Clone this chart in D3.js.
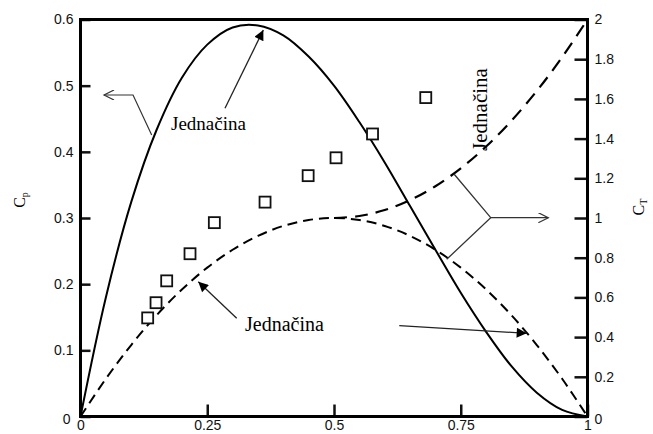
<!DOCTYPE html>
<html>
<head>
<meta charset="utf-8">
<script src="https://cdn.jsdelivr.net/npm/d3@7"></script>
<style>
    body { margin: 0; background: #fff; }
    svg { display: block; }
    .serif { font-family: "Liberation Serif", "DejaVu Serif", "Times New Roman", serif; }
    .sans { font-family: "Liberation Sans", Arial, sans-serif; }
</style>
</head>
<body>
<div id="chart"></div>
<script>
// axial induction factor a
var aGrid = [0, 0.05, 0.1, 0.15, 0.2, 0.25, 0.3, 0.35, 0.4, 0.45, 0.5,
             0.55, 0.6, 0.65, 0.7, 0.75, 0.8, 0.85, 0.9, 0.95, 1];
// solid curve, power coefficient (left axis)
var cpValues = [0, 0.18, 0.324, 0.433, 0.512, 0.562, 0.588, 0.591, 0.576, 0.544, 0.5,
                0.445, 0.384, 0.318, 0.252, 0.187, 0.128, 0.076, 0.036, 0.01, 0];
// dashed curve, thrust coefficient (right axis)
var ctValues = [0, 0.19, 0.36, 0.51, 0.64, 0.75, 0.84, 0.91, 0.96, 0.99, 1,
                0.99, 0.96, 0.91, 0.84, 0.75, 0.64, 0.51, 0.36, 0.19, 0];
// upper dashed branch (right axis)
var aUpper = [0.5, 0.55, 0.6, 0.65, 0.7, 0.75, 0.8, 0.85, 0.9, 0.95, 1];
var ctUpper = [1, 1.01, 1.04, 1.09, 1.16, 1.25, 1.36, 1.49, 1.64, 1.81, 2];
// measured points (squares)
var squareA = [0.1325, 0.149, 0.170, 0.216, 0.264, 0.364, 0.449, 0.504, 0.576, 0.681];
var squareCp = [0.149, 0.172, 0.205, 0.246, 0.293, 0.324, 0.364, 0.391, 0.427, 0.482];

var xTicks = [0, 0.25, 0.5, 0.75, 1];
var xTickLabels = ["0", "0.25", "0.5", "0.75", "1"];
var cpTicks = [0, 0.1, 0.2, 0.3, 0.4, 0.5, 0.6];
var cpTickLabels = ["0", "0.1", "0.2", "0.3", "0.4", "0.5", "0.6"];
var ctTicks = [0, 0.2, 0.4, 0.6, 0.8, 1, 1.2, 1.4, 1.6, 1.8, 2];
var ctTickLabels = ["0", "0.2", "0.4", "0.6", "0.8", "1", "1.2", "1.4", "1.6", "1.8", "2"];

var labelText = "Jednačina";

(function() {
    var width = 653,
        height = 434;
    var left = 80.5, right = 587.5, top = 19.5, bottom = 416.5;

    var svg = d3.select("#chart")
        .append("svg")
        .attr("width", width)
        .attr("height", height)

    var x = d3.scaleLinear().domain([0, 1]).range([left, right])
    var yCp = d3.scaleLinear().domain([0, 0.6]).range([bottom, top])
    var yCt = d3.scaleLinear().domain([0, 2]).range([bottom, top])

    var defs = svg.append("defs")
    defs.append("marker")
        .attr("id", "head")
        .attr("viewBox", "0 0 10 10")
        .attr("refX", 10).attr("refY", 5)
        .attr("markerWidth", 16).attr("markerHeight", 10)
        .attr("markerUnits", "userSpaceOnUse")
        .attr("orient", "auto")
        .append("path")
        .attr("d", "M0,0 L10,5 L0,10 Z")
        .attr("fill", "#000")
    defs.append("marker")
        .attr("id", "open")
        .attr("viewBox", "0 0 10 10")
        .attr("refX", 10).attr("refY", 5)
        .attr("markerWidth", 22).attr("markerHeight", 10)
        .attr("markerUnits", "userSpaceOnUse")
        .attr("orient", "auto")
        .append("path")
        .attr("d", "M0,0 L10,5 L0,10")
        .attr("fill", "none")
        .attr("stroke", "#333")
        .attr("stroke-width", 1.2)

    // curves
    var lineCp = d3.line()
        .x(function(d, i) { return x(aGrid[i]) })
        .y(function(d) { return yCp(d) })
        .curve(d3.curveCatmullRom)
    var lineCt = d3.line()
        .x(function(d, i) { return x(aGrid[i]) })
        .y(function(d) { return yCt(d) })
        .curve(d3.curveCatmullRom)
    var lineUp = d3.line()
        .x(function(d, i) { return x(aUpper[i]) })
        .y(function(d) { return yCt(d) })
        .curve(d3.curveCatmullRom)

    svg.append("path")
        .attr("d", lineCp(cpValues))
        .attr("fill", "none")
        .attr("stroke", "#000")
        .attr("stroke-width", 2)

    svg.append("path")
        .attr("d", lineCt(ctValues))
        .attr("fill", "none")
        .attr("stroke", "#000")
        .attr("stroke-width", 2)
        .attr("stroke-dasharray", "10,6")

    svg.append("path")
        .attr("d", lineUp(ctUpper))
        .attr("fill", "none")
        .attr("stroke", "#000")
        .attr("stroke-width", 2.2)
        .attr("stroke-dasharray", "13,8")

    // squares
    svg.selectAll(".sq")
        .data(squareCp)
        .enter().append("rect")
        .attr("class", "sq")
        .attr("x", function(d, i) { return x(squareA[i]) - 5.5 })
        .attr("y", function(d) { return yCp(d) - 5.5 })
        .attr("width", 11)
        .attr("height", 11)
        .attr("fill", "#fff")
        .attr("stroke", "#111")
        .attr("stroke-width", 1.8)

    // annotations (positions in data units)
    var ptCp = function(p) { return [x(p[0]), yCp(p[1])] }
    var ptCt = function(p) { return [x(p[0]), yCt(p[1])] }
    var plain = d3.line()

    svg.append("path")
        .attr("d", plain([[0.1404, 0.4254], [0.1036, 0.4859], [0.0464, 0.4859]].map(ptCp)))
        .attr("fill", "none")
        .attr("stroke", "#333")
        .attr("stroke-width", 1.2)
        .attr("marker-end", "url(#open)")

    var filledArrows = [
        [[0.285, 0.4658], [0.3606, 0.5841]],
        [[0.3081, 0.1484], [0.2323, 0.2037]],
        [[0.6288, 0.1372], [0.8801, 0.1257]]
    ]
    filledArrows.forEach(function(p) {
        svg.append("path")
            .attr("d", plain(p.map(ptCp)))
            .attr("fill", "none")
            .attr("stroke", "#222")
            .attr("stroke-width", 1.3)
            .attr("marker-end", "url(#head)")
    })

    svg.append("path")
        .attr("d", plain([[0.7367, 1.2217], [0.8091, 1.0015], [0.7223, 0.7919]].map(ptCt)))
        .attr("fill", "none")
        .attr("stroke", "#333")
        .attr("stroke-width", 1.3)
    svg.append("path")
        .attr("d", plain([[0.8091, 1.0015], [0.9227, 1.0015]].map(ptCt)))
        .attr("fill", "none")
        .attr("stroke", "#333")
        .attr("stroke-width", 1.2)
        .attr("marker-end", "url(#open)")

    svg.append("text")
        .attr("class", "serif")
        .attr("x", x(0.1785)).attr("y", yCp(0.433))
        .attr("font-size", 19)
        .text(labelText)
    svg.append("text")
        .attr("class", "serif")
        .attr("x", x(0.3245)).attr("y", yCp(0.1292))
        .attr("font-size", 20)
        .text(labelText)
    svg.append("text")
        .attr("class", "serif")
        .attr("transform", "translate(" + x(0.8018) + "," + yCt(1.5466) + ") rotate(-90)")
        .attr("text-anchor", "middle")
        .attr("font-size", 21)
        .text(labelText)

    // axes
    var axisLeft = d3.axisLeft(yCp)
        .tickValues(cpTicks)
        .tickFormat(function(d, i) { return cpTickLabels[i] })
        .tickSizeInner(-10).tickSizeOuter(0).tickPadding(7)
    var axisRight = d3.axisRight(yCt)
        .tickValues(ctTicks)
        .tickFormat(function(d, i) { return ctTickLabels[i] })
        .tickSizeInner(-13).tickSizeOuter(0).tickPadding(7)
    var axisBottom = d3.axisBottom(x)
        .tickValues(xTicks)
        .tickFormat(function(d, i) { return xTickLabels[i] })
        .tickSizeInner(-12).tickSizeOuter(0).tickPadding(4)

    var gl = svg.append("g").attr("transform", "translate(" + left + ",0)").call(axisLeft)
    var gr = svg.append("g").attr("transform", "translate(" + right + ",0)").call(axisRight)
    var gb = svg.append("g").attr("transform", "translate(0," + bottom + ")").call(axisBottom)

    ;[gl, gr, gb].forEach(function(g) {
        g.attr("font-family", null).attr("font-size", null)
        g.select(".domain").remove()
        g.selectAll(".tick line").attr("stroke", "#111").attr("stroke-width", 2.5)
        g.selectAll(".tick text")
            .attr("class", "sans")
            .attr("fill", "#111")
            .attr("font-size", 14)
    })
    gl.selectAll(".tick text").filter(function(d) { return d === 0 }).attr("dx", -3).attr("dy", "0.5em")
    gr.selectAll(".tick text").filter(function(d) { return d === 0 }).attr("dy", "0.5em")

    // frame
    svg.append("rect")
        .attr("x", left).attr("y", top)
        .attr("width", right - left).attr("height", bottom - top)
        .attr("fill", "none")
        .attr("stroke", "#000")
        .attr("stroke-width", 3)

    // axis titles
    var cpLab = svg.append("text")
        .attr("class", "serif")
        .attr("transform", "translate(25,200) rotate(-90)")
        .attr("text-anchor", "middle")
        .attr("font-size", 16)
    cpLab.append("tspan").text("C")
    cpLab.append("tspan").attr("font-size", 10).attr("dy", 3).text("p")

    var ctLab = svg.append("text")
        .attr("class", "serif")
        .attr("transform", "translate(644,207) rotate(-90)")
        .attr("text-anchor", "middle")
        .attr("font-size", 16)
    ctLab.append("tspan").text("C")
    ctLab.append("tspan").attr("font-size", 10).attr("dy", 3).text("T")
})();
</script>
</body>
</html>
